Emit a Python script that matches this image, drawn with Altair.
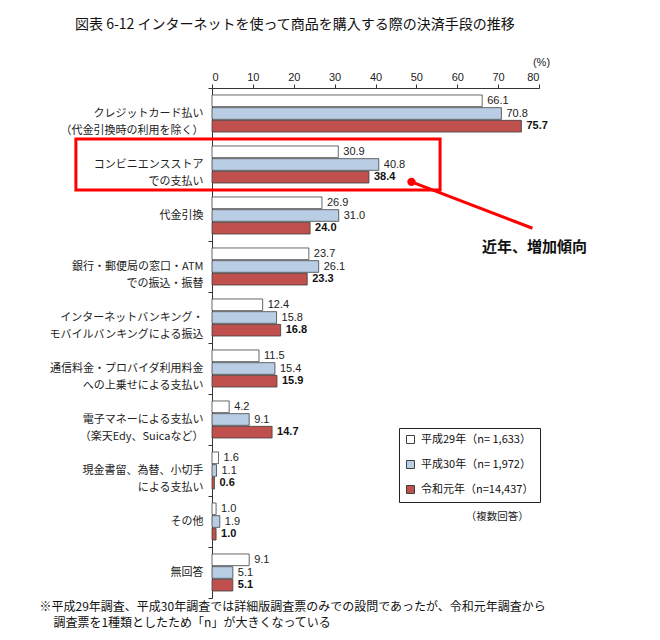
import altair as alt
import pandas as pd

categories = [
    "クレジットカード払い\n（代金引換時の利用を除く）",
    "コンビニエンスストア\nでの支払い",
    "代金引換",
    "銀行・郵便局の窓口・ATM\nでの振込・振替",
    "インターネットバンキング・\nモバイルバンキングによる振込",
    "通信料金・プロバイダ利用料金\nへの上乗せによる支払い",
    "電子マネーによる支払い\n（楽天Edy、Suicaなど）",
    "現金書留、為替、小切手\nによる支払い",
    "その他",
    "無回答",
]
series = ["平成29年（n= 1,633）", "平成30年（n= 1,972）", "令和元年（n=14,437）"]
h29 = [66.1, 30.9, 26.9, 23.7, 12.4, 11.5, 4.2, 1.6, 1.0, 9.1]
h30 = [70.8, 40.8, 31.0, 26.1, 15.8, 15.4, 9.1, 1.1, 1.9, 5.1]
r01 = [75.7, 38.4, 24.0, 23.3, 16.8, 15.9, 14.7, 0.6, 1.0, 5.1]
colors = ["#ffffff", "#b9cde5", "#c0504d"]
x_ticks = [0, 10, 20, 30, 40, 50, 60, 70, 80]

title_text = "図表 6-12  インターネットを使って商品を購入する際の決済手段の推移"
foot_lines = ["※平成29年調査、平成30年調査では詳細版調査票のみでの設問であったが、令和元年調査から",
              "調査票を1種類としたため「n」が大きくなっている"]
callout = "近年、増加傾向"
multi_note = "（複数回答）"

# annotation geometry in data units (x: %, r: category rows from top)
box_x = [-33.3, 55.8]
box_r = [1.0, 2.0]
line_x = [48.8, 78.4]
line_r = [1.84, 2.75]
callout_pos = [78.9, 3.12]
note_pos = [69.8, 8.41]
foot_x = [-42.2, -38.8]
foot_r = [10.18, 10.49]

rows = []
for vals, s in zip([h29, h30, r01], series):
    for c, v in zip(categories, vals):
        rows.append({"category": c, "series": s, "value": v})
df = pd.DataFrame(rows)

JP = "Noto Sans CJK JP"
NUM = "Liberation Sans"

xscale = alt.Scale(domain=[0, 80], nice=False, zero=True)
xaxis = alt.Axis(orient="top", values=x_ticks, grid=False, tickSize=4, labelPadding=2,
                 labelFont=NUM, labelFontSize=11, labelColor="#222",
                 title="(%)", titleFont=NUM, titleFontSize=11, titleFontWeight="normal",
                 titleAngle=0, titleX=329, titleY=-26, titleAlign="center",
                 titleBaseline="middle", titleColor="#222")
yaxis = alt.Axis(title=None, tickBand="extent", tickSize=4, labelPadding=5,
                 labelFont=JP, labelFontSize=11, labelColor="#222",
                 labelLineHeight=17, labelAlign="right", labelBaseline="middle",
                 labelExpr="split(datum.label, '\\n')", labelLimit=300)

X = alt.X("value:Q", scale=xscale, axis=xaxis)
Y = alt.Y("category:N", sort=categories, scale=alt.Scale(paddingInner=0, paddingOuter=0), axis=yaxis)
YO = alt.YOffset("series:N", sort=series,
                 scale=alt.Scale(domain=series, paddingInner=0.08, paddingOuter=0.55))

bars = alt.Chart(df).mark_bar(stroke="#404040", strokeWidth=0.8).encode(
    x=X, y=Y, yOffset=YO,
    color=alt.Color("series:N", sort=series, scale=alt.Scale(domain=series, range=colors),
                    legend=alt.Legend(title=None, orient="none", legendX=187, legendY=340,
                                      padding=6, strokeColor="#222", rowPadding=12,
                                      symbolType="square", symbolSize=64,
                                      symbolStrokeColor="#404040", symbolStrokeWidth=1,
                                      labelFont=JP, labelFontSize=11, labelColor="#111",
                                      labelOffset=5)),
)

lbl_normal = alt.Chart(df).transform_filter(
    alt.FieldOneOfPredicate(field="series", oneOf=series[:2])
).mark_text(align="left", baseline="middle", dx=5, font=NUM, fontSize=11, color="#222").encode(
    x=X, y=Y, yOffset=YO, text=alt.Text("value:Q", format=".1f"))

lbl_bold = alt.Chart(df).transform_filter(
    alt.FieldEqualPredicate(field="series", equal=series[2])
).mark_text(align="left", baseline="middle", dx=5, font=NUM, fontSize=11,
            fontWeight="bold", color="#111").encode(
    x=X, y=Y, yOffset=YO, text=alt.Text("value:Q", format=".1f"))

main = alt.layer(bars, lbl_normal, lbl_bold)

rscale = alt.Scale(domain=[0, 10], reverse=True, nice=False, zero=False)

box_df = pd.DataFrame({"x0": [box_x[0]], "x1": [box_x[1]], "r0": [box_r[0]], "r1": [box_r[1]]})
line_df = pd.DataFrame({"x0": [line_x[0]], "x1": [line_x[1]], "r0": [line_r[0]], "r1": [line_r[1]]})
txt_df = pd.DataFrame({"x": [callout_pos[0]], "r": [callout_pos[1]], "t": [callout]})
note_df = pd.DataFrame({"x": [note_pos[0]], "r": [note_pos[1]], "t": [multi_note]})
foot_df = pd.DataFrame({"x": foot_x, "r": foot_r, "t": foot_lines})

box = alt.Chart(box_df).mark_rect(filled=False, stroke="#ff0000", strokeWidth=3).encode(
    x=alt.X("x0:Q", scale=xscale, axis=xaxis), x2="x1",
    y=alt.Y("r0:Q", scale=rscale, axis=None), y2="r1")
rule = alt.Chart(line_df).mark_rule(color="#ff0000", strokeWidth=3).encode(
    x=alt.X("x0:Q", scale=xscale, axis=xaxis), x2="x1",
    y=alt.Y("r0:Q", scale=rscale, axis=None), y2="r1")
dot = alt.Chart(line_df).mark_circle(color="#ff0000", opacity=1, size=70).encode(
    x=alt.X("x0:Q", scale=xscale, axis=xaxis),
    y=alt.Y("r0:Q", scale=rscale, axis=None))
ctext = alt.Chart(txt_df).mark_text(font=JP, fontSize=15, fontWeight="bold", color="#111",
                                     align="center", baseline="middle").encode(
    x=alt.X("x:Q", scale=xscale, axis=xaxis), y=alt.Y("r:Q", scale=rscale, axis=None), text="t:N")
ntext = alt.Chart(note_df).mark_text(font=JP, fontSize=10.5, color="#222",
                                      align="center", baseline="middle").encode(
    x=alt.X("x:Q", scale=xscale, axis=xaxis), y=alt.Y("r:Q", scale=rscale, axis=None), text="t:N")
ftext = alt.Chart(foot_df).mark_text(font=JP, fontSize=12, color="#111", align="left",
                                      baseline="middle").encode(
    x=alt.X("x:Q", scale=xscale, axis=xaxis), y=alt.Y("r:Q", scale=rscale, axis=None), text="t:N")

ann = alt.layer(box, rule, dot, ctext, ntext, ftext)

chart = alt.layer(main, ann).resolve_scale(y="independent").properties(
    width=327, height=510,
    padding={"left": 204, "top": 80, "right": 110, "bottom": 36},
    autosize=alt.AutoSizeParams(type="none"),
    title=alt.Title(title_text, anchor="start", frame="group", font=JP, fontSize=14,
                    fontWeight="normal", color="#111", dx=-137, offset=24),
).configure_view(stroke=None).configure_axis(domainColor="#333", tickColor="#333")

chart.save("out.html", embed_options={"renderer": "svg", "actions": False})
